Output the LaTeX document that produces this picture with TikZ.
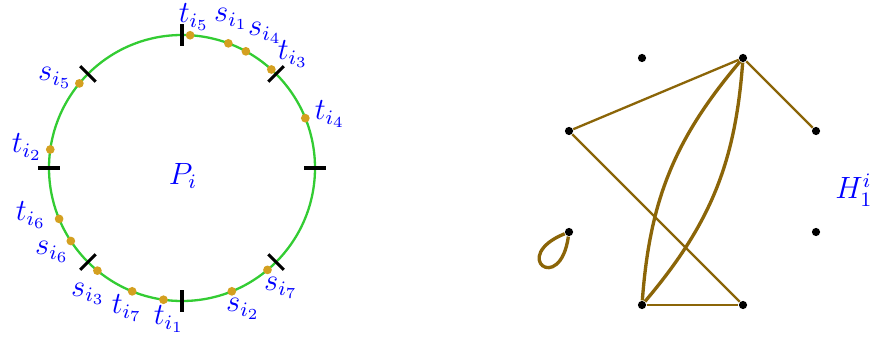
\documentclass[tikz,border=0pt]{standalone}
\usetikzlibrary{positioning}
\definecolor{PathGreen}{HTML}{33CC33}
\definecolor{TermGold}{HTML}{D4A020}
\definecolor{EdgeBrown}{HTML}{8B6508}
\definecolor{LabelBlue}{HTML}{0000FF}

\begin{document}
\begin{tikzpicture}[x=0.0137cm,y=0.0137cm,
  term/.style={circle,fill=TermGold,inner sep=0pt,minimum size=3.4pt},
  vtx/.style={circle,fill=black,inner sep=0pt,minimum size=3.2pt},
  lab/.style={text=LabelBlue,inner sep=0pt,font=\large},
  tickmark/.style={draw=black,line width=1.2pt},
  hedge/.style={draw=EdgeBrown,line width=0.9pt},
  hbend/.style={draw=EdgeBrown,line width=1.3pt}
]
\useasboundingbox (-182,-177) rectangle (695,168);
% the path P_i
\draw[PathGreen,line width=0.9pt] (0,0) circle (133);
\draw[tickmark] (0:122) -- (0:144);
\draw[tickmark] (45:122) -- (45:144);
\draw[tickmark] (90:122) -- (90:144);
\draw[tickmark] (135:122) -- (135:144);
\draw[tickmark] (180:122) -- (180:144);
\draw[tickmark] (225:122) -- (225:144);
\draw[tickmark] (270:122) -- (270:144);
\draw[tickmark] (315:122) -- (315:144);
\node[lab] (pname) at (1,-8) {$P_i$};
% terminals on the path
\node[term] (t5) at (86.5:133) {};
\node[term] (s1) at (69.6:133) {};
\node[term] (s4) at (61.3:133) {};
\node[term] (t3) at (47.8:133) {};
\node[term] (t4) at (22:133) {};
\node[term] (s5) at (140.5:133) {};
\node[term] (t2) at (172:133) {};
\node[term] (t6) at (202.5:133) {};
\node[term] (s6) at (213.3:133) {};
\node[term] (s3) at (230.5:133) {};
\node[term] (t7) at (248:133) {};
\node[term] (t1) at (262:133) {};
\node[term] (s2) at (292:133) {};
\node[term] (s7) at (310:133) {};
\node[lab] (lt5) at (12,151) {$t_{i_5}$};
\node[lab] (ls1) at (49,149) {$s_{i_1}$};
\node[lab] (ls4) at (83,135) {$s_{i_4}$};
\node[lab] (lt3) at (111,114) {$t_{i_3}$};
\node[lab] (lt4) at (148,54) {$t_{i_4}$};
\node[lab] (ls5) at (-127,90) {$s_{i_5}$};
\node[lab] (lt2) at (-155,21) {$t_{i_2}$};
\node[lab] (lt6) at (-151,-47) {$t_{i_6}$};
\node[lab] (ls6) at (-130,-84) {$s_{i_6}$};
\node[lab] (ls3) at (-94,-126) {$s_{i_3}$};
\node[lab] (lt7) at (-55,-140) {$t_{i_7}$};
\node[lab] (lt1) at (-13,-151) {$t_{i_1}$};
\node[lab] (ls2) at (61,-141) {$s_{i_2}$};
\node[lab] (ls7) at (99,-120) {$s_{i_7}$};
% the graph H_1^i
\node[vtx] (a) at (460,110) {};
\node[vtx] (b) at (561,110) {};
\node[vtx] (c) at (387,37) {};
\node[vtx] (d) at (634,37) {};
\node[vtx] (e) at (387,-64) {};
\node[vtx] (f) at (634,-64) {};
\node[vtx] (g) at (460,-137) {};
\node[vtx] (h) at (561,-137) {};
\node[lab] (hname) at (672,-22) {$H_1^i$};
\draw[hedge] (b) -- (c);
\draw[hedge] (b) -- (d);
\draw[hedge] (c) -- (h);
\draw[hedge] (g) -- (h);
\draw[hbend] (g) to[bend left=18] (b);
\draw[hbend] (g) to[bend right=18] (b);
\draw[hbend] (e) to[out=202,in=262,min distance=8.2mm] (e);
\end{tikzpicture}
\end{document}
